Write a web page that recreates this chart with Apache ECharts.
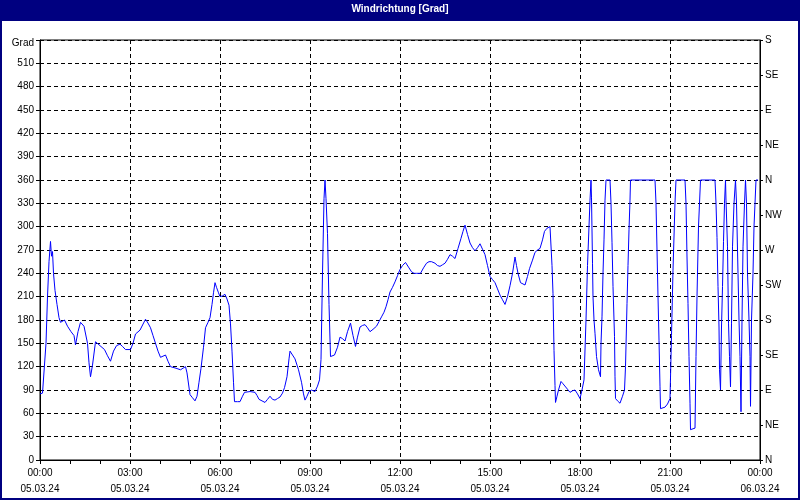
<!DOCTYPE html>
<html>
<head>
<meta charset="utf-8">
<title>Windrichtung [Grad]</title>
<script src="https://cdn.jsdelivr.net/npm/echarts@6/dist/echarts.min.js"></script>
<style>
  html, body { margin: 0; padding: 0; background: #fff; }
  #chart { width: 800px; height: 500px; }
</style>
</head>
<body>
<div id="chart"></div>
<script>
// Minuten seit 05.03.24 00:00
var minutes = [
  0, 5, 9, 12, 15, 18, 21, 23, 25, 27, 30, 34, 38, 41, 45, 49, 55, 62, 68, 71,
  76, 81, 88, 95, 98, 101, 105, 111, 120, 129, 135, 141, 147, 153, 160, 165, 171, 181, 186, 191,
  200, 211, 216, 221, 226, 231, 236, 241, 251, 256, 261, 272, 281, 291, 294, 300, 305, 310, 314, 318,
  322, 327, 331, 336, 340, 344, 347, 350, 353, 357, 360, 365, 370, 374, 378, 381, 384, 387, 389, 395,
  400, 405, 409, 420, 430, 434, 438, 444, 450, 455, 460, 465, 470, 475, 480, 485, 489, 494, 498, 500,
  505, 510, 514, 517, 520, 523, 527, 530, 534, 538, 543, 547, 550, 555, 559, 562, 565, 568, 570, 572,
  575, 578, 581, 585, 589, 595, 600, 605, 610, 615, 621, 626, 631, 635, 640, 645, 650, 655, 660, 666,
  673, 678, 683, 688, 692, 696, 700, 705, 710, 715, 720, 725, 731, 737, 743, 748, 753, 761, 767, 773,
  778, 783, 790, 795, 800, 805, 810, 815, 820, 825, 830, 836, 842, 846, 850, 855, 860, 865, 870, 875,
  880, 885, 890, 895, 900, 905, 910, 915, 920, 925, 930, 935, 940, 945, 950, 953, 956, 961, 965, 970,
  975, 979, 985, 990, 995, 1000, 1005, 1009, 1014, 1020, 1022, 1024, 1026, 1028, 1030, 1031, 1034, 1037, 1042, 1046,
  1050, 1055, 1060, 1065, 1070, 1075, 1080, 1084, 1088, 1092, 1095, 1100, 1102, 1103, 1105, 1106, 1108, 1110, 1113, 1117,
  1121, 1122, 1124, 1126, 1128, 1130, 1132, 1140, 1142, 1144, 1146, 1148, 1149, 1150, 1151, 1155, 1160, 1165, 1169, 1171,
  1174, 1176, 1178, 1180, 1181, 1230, 1232, 1234, 1236, 1238, 1240, 1241, 1245, 1250, 1255, 1260, 1263, 1266, 1270, 1272,
  1290, 1292, 1294, 1296, 1298, 1300, 1301, 1305, 1310, 1312, 1314, 1317, 1321, 1350, 1352, 1354, 1356, 1358, 1359, 1361,
  1363, 1365, 1367, 1369, 1371, 1372, 1375, 1377, 1379, 1381, 1383, 1385, 1388, 1391, 1393, 1396, 1398, 1400, 1402, 1404,
  1406, 1409, 1411, 1413, 1415, 1418, 1420, 1421, 1423, 1426, 1428, 1430, 1432, 1436
]

// Windrichtung in Grad
var direction = [
  85, 86, 88, 150, 210, 255, 281, 262, 268, 240, 218, 200, 183, 177, 178, 180, 172, 165, 160, 148,
  165, 177, 172, 150, 125, 107, 122, 152, 147, 142, 134, 127, 140, 147, 149, 146, 142, 142, 150, 162,
  167, 181, 176, 170, 160, 150, 140, 132, 135, 127, 120, 118, 116, 120, 112, 84, 80, 76, 82, 100,
  118, 145, 170, 177, 183, 200, 215, 228, 222, 215, 210, 211, 213, 207, 199, 175, 140, 100, 75, 75,
  75, 82, 87, 88, 87, 83, 78, 76, 74, 78, 82, 78, 77, 79, 81, 86, 93, 107, 130, 140,
  135, 130, 122, 116, 108, 100, 85, 77, 82, 88, 90, 88, 88, 95, 103, 129, 240, 336, 360, 336,
  291, 200, 133, 134, 135, 145, 158, 156, 153, 165, 176, 160, 146, 158, 171, 173, 174, 170, 165, 168,
  172, 178, 184, 190, 197, 206, 216, 222, 229, 237, 245, 250, 254, 248, 242, 240, 240, 240, 247, 253,
  255, 255, 253, 250, 249, 251, 253, 258, 264, 262, 259, 272, 285, 294, 302, 290, 279, 273, 269, 273,
  278, 271, 264, 250, 236, 232, 228, 220, 212, 206, 200, 210, 224, 240, 261, 250, 240, 228, 226, 225,
  236, 246, 257, 267, 270, 272, 283, 294, 298, 300, 300, 250, 214, 141, 96, 74, 82, 90, 101, 98,
  96, 91, 87, 89, 90, 85, 79, 90, 103, 180, 250, 334, 360, 337, 253, 210, 180, 163, 133, 116,
  107, 150, 184, 240, 283, 334, 360, 360, 330, 280, 223, 180, 159, 107, 79, 76, 73, 82, 90, 120,
  201, 250, 296, 334, 360, 360, 330, 270, 210, 154, 94, 66, 67, 68, 72, 79, 160, 244, 331, 360,
  360, 330, 261, 201, 133, 73, 39, 40, 41, 133, 210, 300, 360, 360, 330, 286, 223, 171, 116, 90,
  171, 223, 281, 330, 360, 334, 274, 176, 133, 94, 176, 274, 330, 360, 330, 240, 180, 133, 62, 180,
  274, 330, 360, 330, 240, 180, 133, 69, 180, 240, 300, 330, 360, 360
]

var timeLabels = ['00:00', '03:00', '06:00', '09:00', '12:00', '15:00', '18:00', '21:00', '00:00']
var dateLabels = ['05.03.24', '05.03.24', '05.03.24', '05.03.24', '05.03.24', '05.03.24', '05.03.24', '05.03.24', '06.03.24']
var compassLabels = ['N', 'NE', 'E', 'SE', 'S', 'SW', 'W', 'NW', 'N', 'NE', 'E', 'SE', 'S']

var seriesData = minutes.map(function (m, i) {
  return [m, direction[i]]
})

var chart = echarts.init(document.getElementById('chart'))

var textFont = {
  fontFamily: 'Liberation Sans',
  fontSize: 10,
  color: '#000'
}

var option = {
  backgroundColor: '#fff',
  animation: false,
  graphic: [{
    type: 'rect',
    shape: { x: 1, y: 1, width: 798, height: 498 },
    style: { fill: 'none', stroke: '#000080', lineWidth: 2 },
    silent: true
  }, {
    type: 'rect',
    shape: { x: 0, y: 0, width: 800, height: 21 },
    style: { fill: '#000080' },
    silent: true
  }, {
    type: 'text',
    left: 'center',
    top: 4,
    style: {
      text: 'Windrichtung [Grad]',
      fill: '#fff',
      font: 'bold 10px "Liberation Sans"'
    },
    silent: true
  }],
  grid: {
    left: 40,
    right: 40,
    top: 40,
    bottom: 40,
    show: true,
    borderColor: '#000',
    borderWidth: 1,
    backgroundColor: 'transparent'
  },
  xAxis: {
    type: 'value',
    min: 0,
    max: 1440,
    interval: 180,
    axisLine: { show: true, lineStyle: { color: '#000', width: 1 } },
    axisTick: { show: true, length: 4, lineStyle: { color: '#000' } },
    minorTick: { show: true, splitNumber: 3, length: 4, lineStyle: { color: '#000' } },
    splitLine: { show: true, lineStyle: { color: '#000', type: [4, 3] } },
    axisLabel: Object.assign({
      margin: 5,
      lineHeight: 16,
      showMinLabel: true,
      showMaxLabel: true,
      formatter: function (v) {
        var i = Math.round(v / 180)
        return timeLabels[i] + '\n' + dateLabels[i]
      }
    }, textFont)
  },
  yAxis: [{
    type: 'value',
    min: 0,
    max: 540,
    interval: 30,
    axisLine: { show: true, lineStyle: { color: '#000', width: 1 } },
    axisTick: { show: true, length: 4, lineStyle: { color: '#000' } },
    splitLine: { show: true, lineStyle: { color: '#000', type: [4, 3] } },
    axisLabel: Object.assign({
      margin: 6,
      formatter: function (v) {
        return v === 540 ? '{g|Grad}' : String(v)
      },
      rich: {
        g: { fontFamily: 'Liberation Sans', fontSize: 10, color: '#000', padding: [6, 0, 0, 0] }
      }
    }, textFont)
  }, {
    type: 'value',
    position: 'right',
    min: 0,
    max: 540,
    interval: 45,
    axisLine: { show: true, lineStyle: { color: '#000', width: 1 } },
    axisTick: { show: true, length: 3, lineStyle: { color: '#000' } },
    splitLine: { show: false },
    axisLabel: Object.assign({
      margin: 5,
      formatter: function (v) {
        return compassLabels[Math.round(v / 45)]
      }
    }, textFont)
  }],
  series: [{
    name: 'Windrichtung',
    type: 'line',
    yAxisIndex: 0,
    showSymbol: false,
    symbol: 'none',
    lineStyle: { color: '#0000ff', width: 1 },
    data: seriesData
  }]
}

chart.setOption(option)
</script>
</body>
</html>
